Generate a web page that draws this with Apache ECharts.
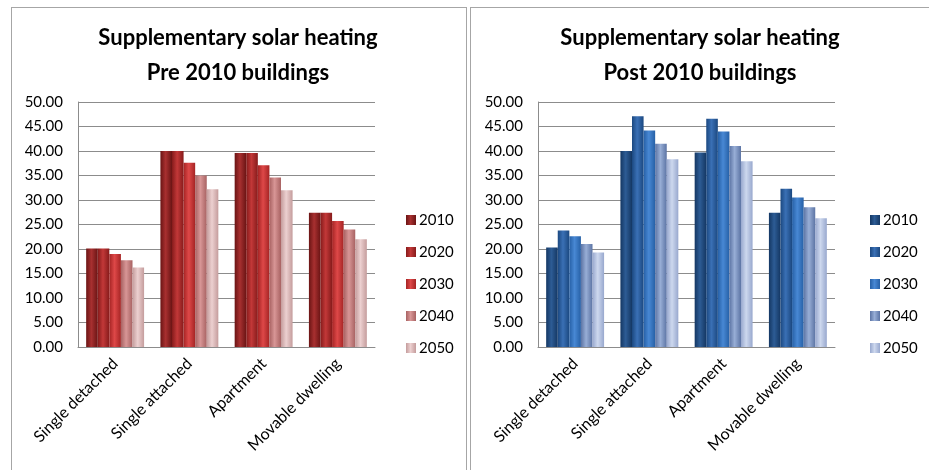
<!DOCTYPE html>
<html lang="en">

<head>
    <meta charset="UTF-8">
    <script src="https://cdn.jsdelivr.net/npm/echarts@6/dist/echarts.min.js"></script>
    <title>Supplementary solar heating</title>
    <style>
        body {
            margin: 0;
            background: #fff;
        }
        .panel {
            position: absolute;
            top: 7px;
            height: 470px;
            border: 1px solid #a6a6a6;
            border-bottom: none;
        }
        #preChart {
            left: 11px;
            width: 454px;
        }
        #postChart {
            left: 470px;
            width: 470px;
            border-right: none;
        }
    </style>
</head>

<body>
    <div id="preChart" class="panel"></div>
    <div id="postChart" class="panel"></div>
    <script>
        // categories and legend
        var categories = ['Single detached', 'Single attached', 'Apartment', 'Movable dwelling'];
        var years = ['2010', '2020', '2030', '2040', '2050'];
        var yTicks = [0, 5, 10, 15, 20, 25, 30, 35, 40, 45, 50];

        // pre 2010 buildings
        var pre2010 = [20.1, 40.0, 39.6, 27.4];
        var pre2020 = [20.1, 40.0, 39.6, 27.4];
        var pre2030 = [19.0, 37.6, 37.1, 25.7];
        var pre2040 = [17.7, 35.0, 34.6, 24.0];
        var pre2050 = [16.2, 32.2, 32.0, 22.0];

        // post 2010 buildings
        var post2010 = [20.3, 40.0, 39.7, 27.4];
        var post2020 = [23.8, 47.1, 46.6, 32.3];
        var post2030 = [22.6, 44.2, 44.0, 30.5];
        var post2040 = [21.0, 41.5, 41.0, 28.5];
        var post2050 = [19.3, 38.3, 37.9, 26.3];

        var redShades = [
            ['#6a1414', '#a83030'],
            ['#861b1b', '#c23838'],
            ['#a52424', '#de4848'],
            ['#a86262', '#d89696'],
            ['#c49c9c', '#ecd0d0']
        ];
        var blueShades = [
            ['#143763', '#2d5c95'],
            ['#1b4880', '#3a70b5'],
            ['#2660a6', '#4888d4'],
            ['#5c74a4', '#98aed6'],
            ['#98a8ce', '#cdd8ee']
        ];

        var font = 'Lato, "Liberation Sans", sans-serif';

        function barColor(c) {
            return new echarts.graphic.LinearGradient(0, 0, 1, 0, [
                { offset: 0, color: c[0] },
                { offset: 0.45, color: c[1] },
                { offset: 1, color: c[0] }
            ]);
        }

        function buildOption(title, values, shades, gridLeft, titleX, legendLeft) {
            var series = values.map(function (vals, i) {
                return {
                    name: years[i],
                    type: 'bar',
                    data: vals,
                    barGap: '0%',
                    barCategoryGap: '22%',
                    itemStyle: { color: barColor(shades[i]) }
                };
            });
            return {
                animation: false,
                textStyle: { fontFamily: font },
                title: {
                    text: title,
                    left: titleX,
                    top: 7,
                    textAlign: 'center',
                    textStyle: {
                        fontFamily: font,
                        fontSize: 22,
                        fontWeight: 'bold',
                        color: '#000',
                        lineHeight: 35
                    }
                },
                legend: {
                    data: years,
                    orient: 'vertical',
                    left: legendLeft,
                    top: 198,
                    itemWidth: 10,
                    itemHeight: 10,
                    itemGap: 14,
                    icon: 'rect',
                    textStyle: {
                        fontFamily: font,
                        fontSize: 15,
                        color: '#000',
                        lineHeight: 18,
                        padding: [0, 0, 0, -2]
                    }
                },
                grid: {
                    left: gridLeft,
                    top: 94,
                    width: 297,
                    height: 245
                },
                xAxis: {
                    type: 'category',
                    data: categories,
                    axisLine: { lineStyle: { color: '#8c8c8c' } },
                    axisTick: { show: false },
                    axisLabel: {
                        rotate: 45,
                        interval: 0,
                        fontFamily: font,
                        fontSize: 16,
                        color: '#000',
                        margin: 14
                    }
                },
                yAxis: {
                    type: 'value',
                    min: yTicks[0],
                    max: yTicks[yTicks.length - 1],
                    interval: yTicks[1] - yTicks[0],
                    axisLine: { show: true, lineStyle: { color: '#8c8c8c' } },
                    axisTick: { show: false },
                    splitLine: { lineStyle: { color: '#8c8c8c' } },
                    axisLabel: {
                        fontFamily: font,
                        fontSize: 15,
                        color: '#000',
                        margin: 15,
                        formatter: function (v) { return v.toFixed(2); }
                    }
                },
                series: series
            };
        }

        var preChart = echarts.init(document.getElementById('preChart'));
        preChart.setOption(buildOption(
            'Supplementary solar heating\nPre 2010 buildings',
            [pre2010, pre2020, pre2030, pre2040, pre2050],
            redShades, 66, 221, 389));

        var postChart = echarts.init(document.getElementById('postChart'));
        postChart.setOption(buildOption(
            'Supplementary solar heating\nPost 2010 buildings',
            [post2010, post2020, post2030, post2040, post2050],
            blueShades, 67, 224, 394));
    </script>
</body>

</html>
